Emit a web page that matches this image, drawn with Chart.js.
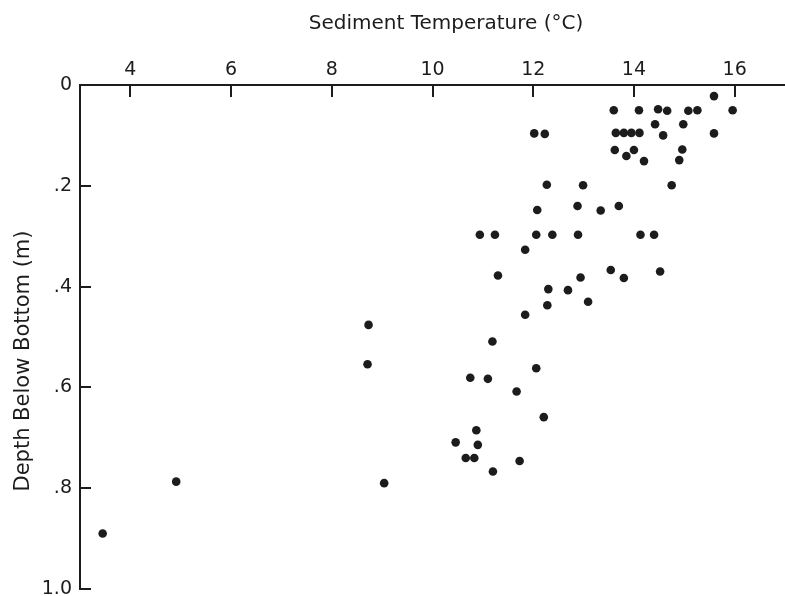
<!DOCTYPE html>
<html>
<head>
<meta charset="utf-8">
<script src="https://cdn.jsdelivr.net/npm/chart.js@4.4.1/dist/chart.umd.min.js"></script>
<style>
  html, body { margin: 0; padding: 0; background: #fff; }
</style>
</head>
<body>
<canvas id="chart" width="785" height="596"></canvas>
<script>
// Sediment temperature (°C) against depth below bottom (m), one entry per core reading
const tempC = [
  15.59, 15.96, 13.60, 14.10, 14.48, 14.66, 15.08, 15.26, 14.42, 14.98,
  13.64, 13.80, 13.95, 14.11, 14.58, 15.59, 13.62, 14.00, 13.85, 14.20,
  14.96, 14.90, 12.99, 14.75, 12.02, 12.23, 12.27, 12.08, 12.88, 13.34,
  13.70, 10.94, 11.24, 12.06, 12.38, 12.89, 14.13, 14.40, 11.84, 11.30,
  12.94, 13.54, 13.80, 14.52, 12.30, 12.69, 12.28, 13.09, 11.84, 11.19,
  12.06, 10.75, 11.10, 11.67, 12.21, 10.87, 10.46, 10.90, 10.66, 10.83,
  11.73, 11.20, 3.45, 4.91, 9.04, 8.73, 8.71,
];
const depthM = [
  0.022, 0.050, 0.050, 0.050, 0.048, 0.051, 0.051, 0.050, 0.078, 0.078,
  0.095, 0.095, 0.095, 0.095, 0.100, 0.096, 0.129, 0.129, 0.141, 0.151,
  0.128, 0.149, 0.199, 0.199, 0.096, 0.097, 0.198, 0.248, 0.240, 0.249,
  0.240, 0.297, 0.297, 0.297, 0.297, 0.297, 0.297, 0.297, 0.327, 0.378,
  0.382, 0.367, 0.383, 0.370, 0.405, 0.407, 0.437, 0.430, 0.456, 0.509,
  0.562, 0.581, 0.583, 0.608, 0.659, 0.685, 0.709, 0.714, 0.740, 0.740,
  0.746, 0.767, 0.890, 0.787, 0.790, 0.476, 0.554,
];

const xTicks = [4, 6, 8, 10, 12, 14, 16];
const yTicks = [0, 0.2, 0.4, 0.6, 0.8, 1.0];
const yTickLabels = ["0", ".2", ".4", ".6", ".8", "1.0"];

const xTitle = "Sediment Temperature (°C)";
const yTitle = "Depth Below Bottom (m)";

const INK = "#1c1c1c";
const FONT = "'DejaVu Sans', sans-serif";

const points = tempC.map((t, i) => ({ x: t, y: depthM[i] }));

// short tick marks pointing into the plot from the top and left axes
const inwardTicks = {
    id: "inwardTicks",
    afterDatasetsDraw(chart) {
        const { ctx, chartArea, scales } = chart;
        ctx.save();
        ctx.strokeStyle = INK;
        ctx.lineWidth = 2;
        ctx.beginPath();
        xTicks.forEach((v) => {
            const px = Math.round(scales.x.getPixelForValue(v));
            ctx.moveTo(px, chartArea.top);
            ctx.lineTo(px, chartArea.top + 12);
        });
        yTicks.forEach((v) => {
            const py = Math.round(scales.y.getPixelForValue(v));
            ctx.moveTo(chartArea.left, py);
            ctx.lineTo(chartArea.left + 11, py);
        });
        ctx.stroke();
        ctx.restore();
    },
};

// axis titles sit a little off the scale centres, so place them by hand
const axisTitles = {
    id: "axisTitles",
    afterDraw(chart) {
        const { ctx, chartArea } = chart;
        ctx.save();
        ctx.fillStyle = INK;
        ctx.textAlign = "center";
        ctx.textBaseline = "middle";
        ctx.font = "20px " + FONT;
        ctx.fillText(xTitle, chartArea.left + 366, 24);
        ctx.translate(24, chartArea.top + 276);
        ctx.rotate(-Math.PI / 2);
        ctx.font = "21px " + FONT;
        ctx.fillText(yTitle, 0, 0);
        ctx.restore();
    },
};

new Chart(document.getElementById("chart"), {
    type: "scatter",
    data: {
        datasets: [
            {
                data: points,
                pointRadius: 4.3,
                pointBackgroundColor: INK,
                pointBorderWidth: 0,
            },
        ],
    },
    options: {
        responsive: false,
        animation: false,
        layout: {
            autoPadding: false,
            padding: { top: 0, left: 0, right: 0, bottom: 7 },
        },
        plugins: {
            legend: { display: false },
            tooltip: { enabled: false },
        },
        scales: {
            x: {
                type: "linear",
                position: "top",
                min: 3,
                max: 17,
                afterBuildTicks: (s) => {
                    s.ticks = xTicks.map((v) => ({ value: v }));
                },
                afterFit: (s) => {
                    s.height = 85;
                    s.paddingLeft = 0;
                    s.paddingRight = 0;
                },
                grid: { display: false, drawTicks: false },
                border: { display: true, color: INK, width: 2 },
                ticks: {
                    padding: 4,
                    color: INK,
                    font: { family: FONT, size: 19 },
                },
            },
            y: {
                type: "linear",
                reverse: true,
                min: 0,
                max: 1,
                afterBuildTicks: (s) => {
                    s.ticks = yTicks.map((v) => ({ value: v }));
                },
                afterFit: (s) => {
                    s.width = 80;
                    s.paddingTop = 0;
                    s.paddingBottom = 0;
                },
                grid: { display: false, drawTicks: false },
                border: { display: true, color: INK, width: 2 },
                ticks: {
                    padding: 8,
                    color: INK,
                    font: { family: FONT, size: 19 },
                    callback: (v) => {
                        const i = yTicks.findIndex((t) => Math.abs(t - v) < 1e-9);
                        return i >= 0 ? yTickLabels[i] : "";
                    },
                },
            },
        },
    },
    plugins: [inwardTicks, axisTitles],
});
</script>
</body>
</html>
